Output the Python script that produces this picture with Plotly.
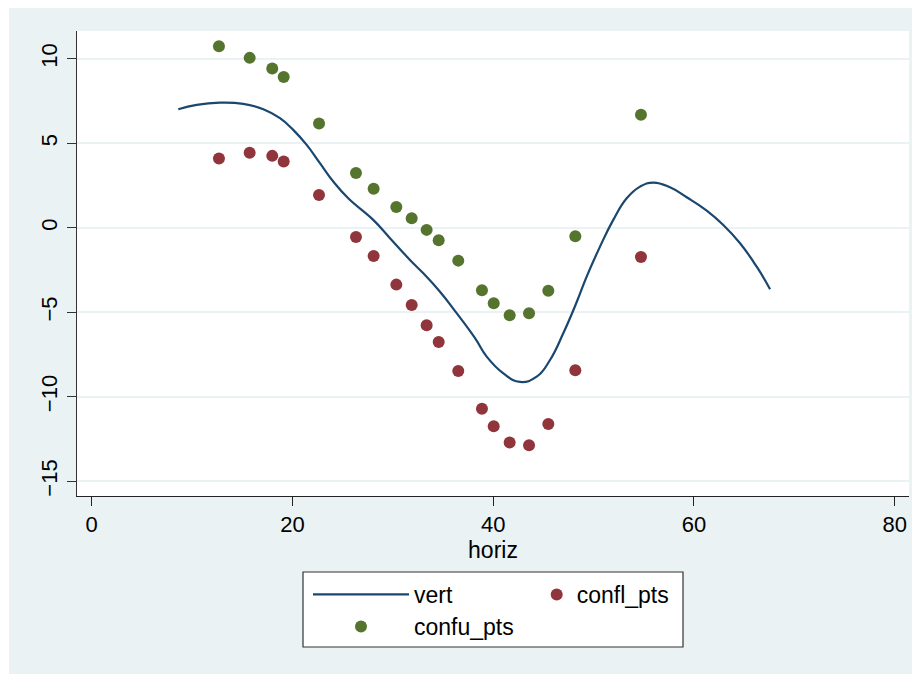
import plotly.graph_objects as go

# ---- data ----
pts_x = [12.68, 15.74, 17.99, 19.13, 22.65, 26.33, 28.09, 30.35, 31.88, 33.37,
         34.57, 36.52, 38.88, 40.05, 41.64, 43.57, 45.49, 48.18, 54.72]
confu_pts = [10.75, 10.06, 9.43, 8.93, 6.17, 3.25, 2.32, 1.24, 0.57, -0.12,
             -0.73, -1.94, -3.69, -4.46, -5.17, -5.05, -3.72, -0.50, 6.70]
confl_pts = [4.10, 4.44, 4.26, 3.92, 1.95, -0.54, -1.66, -3.36, -4.56, -5.76,
             -6.75, -8.47, -10.70, -11.74, -12.71, -12.87, -11.61, -8.43, -1.72]

horiz = [8.63, 10.46, 12.78, 15.10, 17.10, 18.76, 20.08, 21.42, 22.74, 24.07,
         25.56, 28.05, 29.72, 31.71, 33.04, 34.70, 36.36, 38.19, 39.35, 41.01,
         42.67, 44.33, 45.66, 46.98, 48.32, 49.31, 50.64, 51.96, 53.30, 54.63,
         55.95, 57.61, 59.28, 61.27, 62.92, 64.59, 66.25, 67.58]
vert = [7.02, 7.28, 7.41, 7.34, 7.02, 6.49, 5.80, 4.91, 3.83, 2.74,
        1.75, 0.47, -0.61, -1.90, -2.69, -3.78, -5.05, -6.53, -7.62, -8.61,
        -9.12, -8.81, -7.82, -6.24, -4.39, -2.89, -1.11, 0.47, 1.75, 2.44,
        2.68, 2.40, 1.81, 1.02, 0.17, -0.91, -2.30, -3.63]

x_ticks = [0, 20, 40, 60, 80]
y_ticks = [-15, -10, -5, 0, 5, 10]

NAVY = "#1A476F"
MAROON = "#90353B"
GREEN = "#55752F"
BG = "#EAF2F3"
FONT = "Liberation Sans, Arial, sans-serif"

fig = go.Figure()
fig.add_trace(go.Scatter(x=horiz, y=vert, mode="lines", name="vert",
                         line=dict(color=NAVY, width=2.2, shape="spline", smoothing=1.3),
                         legend="legend"))
fig.add_trace(go.Scatter(x=pts_x, y=confl_pts, mode="markers", name="confl_pts",
                         marker=dict(color=MAROON, size=12),
                         legend="legend2"))
fig.add_trace(go.Scatter(x=pts_x, y=confu_pts, mode="markers", name="confu_pts",
                         marker=dict(color=GREEN, size=12),
                         legend="legend3"))

# page is offset by the 8px body margin, so the figure is 8px smaller
W, H = 912, 669
L, R, T, B = 69, 11, 23, 181
pw, ph = W - L - R, H - T - B

def px(xp):
    return (xp - L) / pw

def py(yp):
    return (H - B - yp) / ph

leg_common = dict(xanchor="left", yanchor="top", orientation="v",
                  bgcolor="rgba(0,0,0,0)", borderwidth=0, font=dict(size=23))

fig.update_layout(
    width=W, height=H,
    margin=dict(l=L, r=R, t=T, b=B),
    paper_bgcolor=BG,
    plot_bgcolor="white",
    font=dict(family=FONT, color="black", size=22),
    showlegend=True,
    xaxis=dict(range=[-1.46, 81.42], tickvals=x_ticks, ticks="outside", ticklen=9,
               tickcolor="#222222", showgrid=False, zeroline=False, showline=True,
               linecolor="#222222", linewidth=1, tickfont=dict(size=22),
               title=dict(text="horiz", font=dict(size=23), standoff=0)),
    yaxis=dict(range=[-15.87, 11.65], tickvals=y_ticks, ticks="outside", ticklen=9,
               tickcolor="#333333", showgrid=True, gridcolor=BG, gridwidth=2,
               zeroline=False, showline=True, linecolor="#333333", linewidth=1,
               tickangle=-90, tickfont=dict(size=22), ticklabelstandoff=1),
    legend=dict(x=px(300), y=py(565), itemwidth=96, **leg_common),
    legend3=dict(x=px(300), y=py(597), itemwidth=96, **leg_common),
    legend2=dict(x=px(528.7), y=py(565), itemwidth=30, **leg_common),
    shapes=[
        dict(type="rect", xref="paper", yref="paper", x0=px(295), x1=px(675),
             y0=py(639), y1=py(564), fillcolor="white",
             line=dict(color="#333333", width=1.2), layer="above"),
        dict(type="rect", xref="paper", yref="paper", x0=px(0), x1=px(1),
             y0=py(H), y1=py(0), fillcolor="white", line=dict(width=0), layer="above"),
        dict(type="rect", xref="paper", yref="paper", x0=px(0), x1=px(W),
             y0=py(H), y1=py(666), fillcolor="white", line=dict(width=0), layer="above"),
    ],
)

fig.write_html("out.html")
